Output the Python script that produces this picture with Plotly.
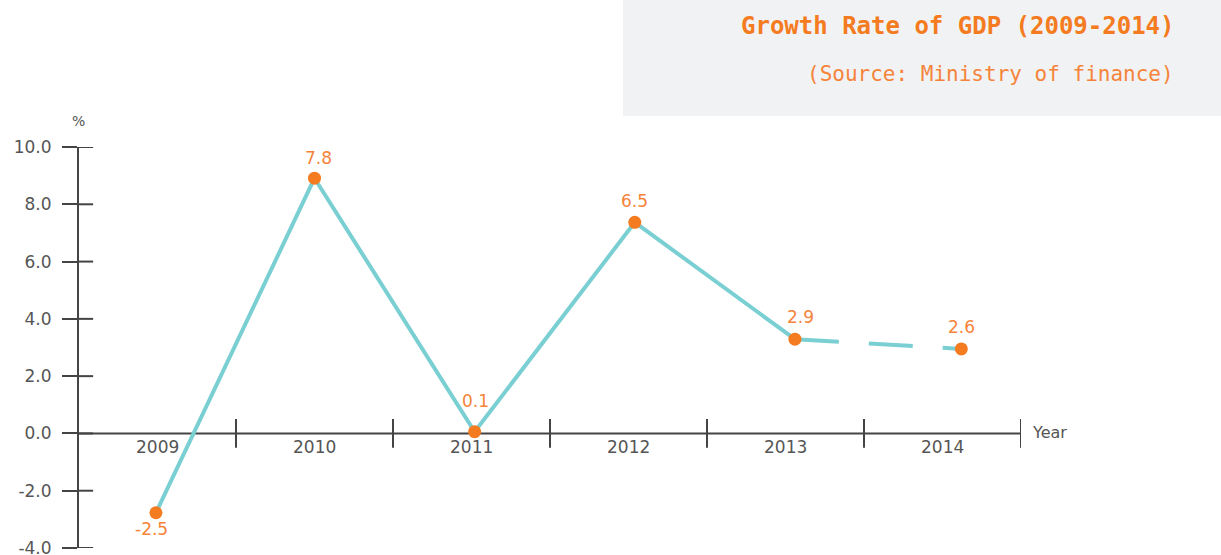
import plotly.graph_objects as go

# ---- data ----
years = ["2009", "2010", "2011", "2012", "2013", "2014"]
growth_labels = ["-2.5", "7.8", "0.1", "6.5", "2.9", "2.6"]
# plotted positions as drawn in the reference (category units, % units)
point_x = [0.49, 1.50, 2.52, 3.54, 4.56, 5.62]
point_y = [-2.77, 8.91, 0.06, 7.37, 3.29, 2.95]
y_ticks = [-4, -2, 0, 2, 4, 6, 8, 10]
y_tick_text = ["-4.0", "-2.0", "0.0", "2.0", "4.0", "6.0", "8.0", "10.0"]
title_text = "Growth Rate of GDP (2009-2014)"
source_text = "(Source: Ministry of finance)"

W, H = 1221, 555
TEAL = "#7ACFD3"
ORANGE = "#F47B20"
AXIS = "#444444"
LABEL = "#555555"
FONT = "DejaVu Sans"

fig = go.Figure()

# solid part 2009-2013
fig.add_trace(go.Scatter(x=point_x[:5], y=point_y[:5], mode="lines",
                         line=dict(color=TEAL, width=4), hoverinfo="skip",
                         showlegend=False, cliponaxis=False))
# dashed part 2013-2014
fig.add_trace(go.Scatter(x=point_x[4:], y=point_y[4:], mode="lines",
                         line=dict(color=TEAL, width=4, dash="44px,30px"),
                         hoverinfo="skip", showlegend=False, cliponaxis=False))
# markers
fig.add_trace(go.Scatter(x=point_x, y=point_y, mode="markers",
                         marker=dict(color=ORANGE, size=13, line=dict(width=0)),
                         showlegend=False, cliponaxis=False))

# value labels
x_shift = [-4, 4, 1, 0, 6, 0]
y_shift = [-16, 20, 31, 21, 22, 22]
for xv, yv, t, dx, dy in zip(point_x, point_y, growth_labels, x_shift, y_shift):
    fig.add_annotation(x=xv, y=yv, xref="x", yref="y", text=t, showarrow=False,
                       xshift=dx, yshift=dy, xanchor="center", yanchor="middle",
                       font=dict(family=FONT, size=17, color="#F5843A"))

# x axis line (at y=0) and category separators
fig.add_shape(type="line", xref="x", yref="y", x0=0, x1=6, y0=0, y1=0,
              line=dict(color=AXIS, width=2), layer="below")
for i in range(1, len(years) + 1):
    fig.add_shape(type="line", xref="x", yref="y", x0=i, x1=i, y0=-0.5, y1=0.5,
                  line=dict(color=AXIS, width=2), layer="below")
# category labels
for i, yr in enumerate(years):
    fig.add_annotation(x=i + 0.5, y=0, xref="x", yref="y", text=yr, showarrow=False,
                       yshift=-14, xanchor="center", yanchor="middle",
                       font=dict(family=FONT, size=17, color=LABEL))
# inner halves of y ticks
for yv in y_ticks:
    fig.add_shape(type="line", xref="x", yref="y", x0=0, x1=0.09, y0=yv, y1=yv,
                  line=dict(color=AXIS, width=2), layer="below")

# title box
fig.add_shape(type="rect", xref="paper", yref="paper",
              x0=623 / W, x1=1.0, y0=1 - 116 / H, y1=1.0,
              fillcolor="#F1F2F4", line=dict(width=0), layer="below")
fig.add_annotation(xref="paper", yref="paper", x=1176 / W, y=1 - 26 / H,
                   text="<b>" + title_text + "</b>", showarrow=False, xanchor="right",
                   yanchor="middle",
                   font=dict(family="DejaVu Sans Mono", size=24, color=ORANGE))
fig.add_annotation(xref="paper", yref="paper", x=1176 / W, y=1 - 74 / H,
                   text=source_text, showarrow=False, xanchor="right", yanchor="middle",
                   font=dict(family="DejaVu Sans Mono", size=21, color="#F5843A"))

# axis titles
fig.add_annotation(xref="paper", yref="paper", x=79 / W, y=1 - 121 / H, text="%",
                   showarrow=False, xanchor="center", yanchor="middle",
                   font=dict(family=FONT, size=14, color=LABEL))
fig.add_annotation(xref="paper", yref="paper", x=1030 / W, y=1 - 432 / H, text="Year",
                   showarrow=False, xanchor="left", yanchor="middle",
                   font=dict(family=FONT, size=16, color=LABEL))

fig.update_layout(
    template="none",
    width=W, height=H,
    margin=dict(l=0, r=0, t=0, b=0, pad=0, autoexpand=False),
    paper_bgcolor="white", plot_bgcolor="white",
    xaxis=dict(domain=[79 / W, 1021 / W], range=[0, 6], visible=False,
               fixedrange=True, automargin=False),
    yaxis=dict(domain=[1 - 548 / H, 1 - 147 / H], range=[-4, 10],
               tickvals=y_ticks, ticktext=y_tick_text,
               showline=True, linecolor=AXIS, linewidth=2,
               ticks="outside", ticklen=15, tickwidth=2, tickcolor=AXIS,
               ticklabelstandoff=7, automargin=False, ticklabeloverflow="allow",
               tickfont=dict(family=FONT, size=17, color=LABEL),
               showgrid=False, zeroline=False, fixedrange=True),
    showlegend=False,
)

fig.write_html(
    "out.html", config={"displayModeBar": False},
    post_script=(
        "document.documentElement.style.margin='0';"
        "document.body.style.margin='0';"
        "document.body.style.overflow='hidden';"
        "var d=document.getElementById('{plot_id}');"
        "d.style.position='fixed';d.style.top='0px';d.style.left='0px';"
    ),
)
